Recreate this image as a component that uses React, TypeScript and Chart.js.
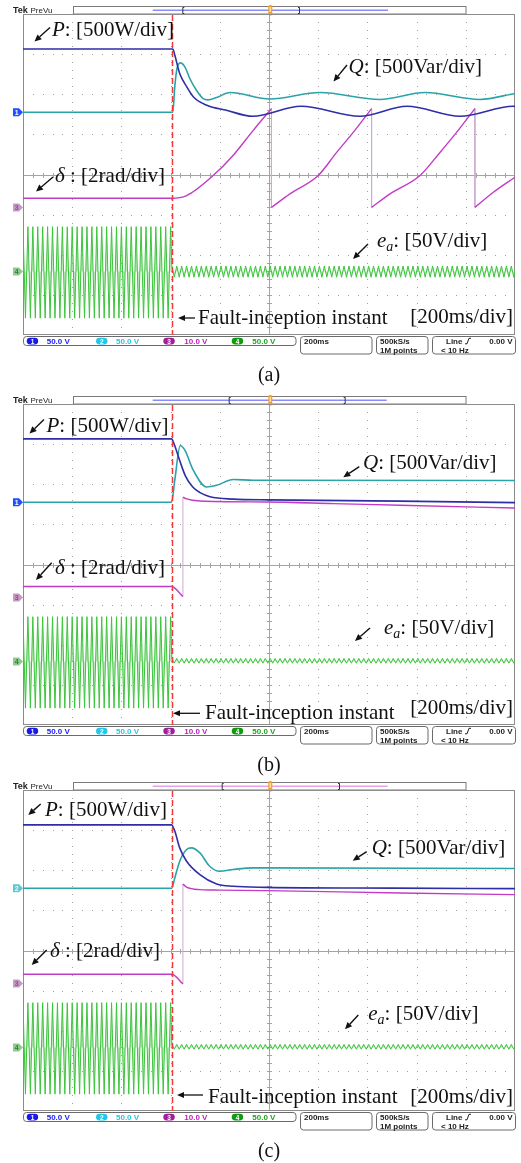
import { useEffect, useRef } from "react";
import { Chart, registerables } from "chart.js";
Chart.register(...registerables);

// ---------------- oscilloscope settings ----------------
const divMs = 200; // 200 ms/div, 10 divisions
const timeMaxMs = 2000;
const faultMs = 604;
const pScale = 500; // W/div
const qScale = 500; // Var/div
const dScale = 2; // rad/div
const eScale = 50; // V/div
const ch12Off = 1.55; // ground marker of ch1/ch2 (div)
const ch3Off = -0.82;
const ch4Off = -2.42;

// ---------------- panel (a) ----------------
const pTimesA = [0, 609, 617, 637, 666, 693, 747, 827, 934, 1130, 1370, 1561, 1777, 1993, 2000];
const pA = [788, 788, 713, 484, 316, 191, 88, 25, -50, 75, -50, 75, -50, 75, 74];
const qTimesA = [0, 609, 617, 626, 640, 658, 678, 705, 732, 752, 787, 841, 1003, 1207, 1450, 1634, 1857, 2000];
const qA = [0, 0, 320, 546, 616, 566, 421, 275, 171, 155, 184, 246, 165, 246, 160, 246, 160, 235];
const deltaTimesA = [
  [0, 605, 665, 773, 854, 936, 1010],
  [1010, 1085, 1200, 1275, 1349, 1417],
  [1417, 1492, 1614, 1695, 1769, 1837],
  [1837, 1912, 2000],
];
const deltaA = [
  [0.455, 0.455, 0.59, 1.59, 2.59, 3.84, 4.925],
  [0, 0.675, 1.59, 2.74, 3.84, 4.925],
  [0, 0.675, 1.59, 2.74, 3.84, 4.925],
  [0, 0.755, 1.505],
];

// ---------------- panel (b) ----------------
const pTimesB = [0, 604, 615, 637, 660, 690, 720, 760, 855, 1003, 1532, 2000];
const pB = [791, 791, 720, 520, 330, 190, 120, 70, 40, 30, 15, -4];
const qTimesB = [0, 604, 617, 639, 658, 692, 746, 787, 855, 936, 2000];
const qB = [0, 0, 275, 704, 650, 400, 191, 212, 284, 275, 272];
const deltaTimesB = [
  [0, 604, 650],
  [650, 662, 719, 991, 1261, 1533, 2000],
];
const deltaB = [
  [0.54, 0.54, 0.04],
  [5.0, 4.925, 4.805, 4.755, 4.675, 4.59, 4.455],
];

// ---------------- panel (c) ----------------
const pTimesC = [0, 604, 617, 637, 665, 719, 787, 854, 990, 1500, 2000];
const pC = [791, 791, 713, 504, 338, 171, 54, 25, 12, 2, -4];
const qTimesC = [0, 604, 617, 637, 665, 685, 719, 759, 800, 854, 936, 2000];
const qC = [0, 0, 129, 338, 484, 504, 441, 275, 212, 234, 254, 246];
const deltaTimesC = [
  [0, 604, 650],
  [650, 665, 719, 800, 991, 1533, 2000],
];
const deltaC = [
  [0.455, 0.455, -0.025],
  [4.955, 4.8, 4.675, 4.65, 4.625, 4.505, 4.425],
];

// ---------------- e_a samples (half-cycle extremes, V) ----------------
const eaHalfMs = 10;
const eaPreStartMs = 0;
const eaPostStartMs = 605;
const eaPre = [
  56, -58, 56, -58, 56, -58, 56, -58, 56, -58, 56, -58, 56, -58, 56, -58, 56, -58, 56, -58,
  56, -58, 56, -58, 56, -58, 56, -58, 56, -58, 56, -58, 56, -58, 56, -58, 56, -58, 56, -58,
  56, -58, 56, -58, 56, -58, 56, -58, 56, -58, 56, -58, 56, -58, 56, -58, 56, -58, 56, -58,
  56,
];
const eaPostA = [
  7, -7, 7, -7, 7, -7, 7, -7, 7, -7, 7, -7, 7, -7, 7, -7, 7, -7, 7, -7,
  7, -7, 7, -7, 7, -7, 7, -7, 7, -7, 7, -7, 7, -7, 7, -7, 7, -7, 7, -7,
  7, -7, 7, -7, 7, -7, 7, -7, 7, -7, 7, -7, 7, -7, 7, -7, 7, -7, 7, -7,
  7, -7, 7, -7, 7, -7, 7, -7, 7, -7, 7, -7, 7, -7, 7, -7, 7, -7, 7, -7,
  7, -7, 7, -7, 7, -7, 7, -7, 7, -7, 7, -7, 7, -7, 7, -7, 7, -7, 7, -7,
  7, -7, 7, -7, 7, -7, 7, -7, 7, -7, 7, -7, 7, -7, 7, -7, 7, -7, 7, -7,
  7, -7, 7, -7, 7, -7, 7, -7, 7, -7, 7, -7, 7, -7, 7, -7, 7, -7, 7, -7,
  7,
];
const eaPostBC = [
  4, -2, 4, -2, 4, -2, 4, -2, 4, -2, 4, -2, 4, -2, 4, -2, 4, -2, 4, -2,
  4, -2, 4, -2, 4, -2, 4, -2, 4, -2, 4, -2, 4, -2, 4, -2, 4, -2, 4, -2,
  4, -2, 4, -2, 4, -2, 4, -2, 4, -2, 4, -2, 4, -2, 4, -2, 4, -2, 4, -2,
  4, -2, 4, -2, 4, -2, 4, -2, 4, -2, 4, -2, 4, -2, 4, -2, 4, -2, 4, -2,
  4, -2, 4, -2, 4, -2, 4, -2, 4, -2, 4, -2, 4, -2, 4, -2, 4, -2, 4, -2,
  4, -2, 4, -2, 4, -2, 4, -2, 4, -2, 4, -2, 4, -2, 4, -2, 4, -2, 4, -2,
  4, -2, 4, -2, 4, -2, 4, -2, 4, -2, 4, -2, 4, -2, 4, -2, 4, -2, 4, -2,
  4,
];

// ---------------- texts ----------------
const captions = ["(a)", "(b)", "(c)"];
const statusChannels = [
  { n: "1", txt: "50.0 V" },
  { n: "2", txt: "50.0 V" },
  { n: "3", txt: "10.0 V" },
  { n: "4", txt: "50.0 V" },
];

// ---------------- styles / layout ----------------
const W = 521;
const H = 387;
const SERIF = '"Liberation Serif", "Times New Roman", serif';
const SANS = '"Liberation Sans", Arial, sans-serif';
const LBL = 21;
const C_P = "#2e2ea6";
const C_Q = "#2aa3a8";
const C_D = "#c23bc6";
const C_DW = "#cfa8d2";
const C_E = "#3cc43c";

const panels: any[] = [
  {
    id: "a", caption: captions[0], top: 0,
    pT: pTimesA, pV: pA, qT: qTimesA, qV: qA, dT: deltaTimesA, dV: deltaA, ePost: eaPostA,
    lp: { x: 52, y: 35.5, ax: [50, 27.5, 34.5, 41.5] },
    lq: { x: 348.5, y: 72.5, ax: [347, 65, 333.5, 81.5] },
    ld: { x: 55, y: 181.5, ax: [53, 177, 36, 191.5] },
    le: { x: 377, y: 247, ax: [368, 244, 353, 259] },
    fault: { a1: 178, a2: 195, ay: 318, tx: 198, ty: 324 },
    td: { x: 513, y: 323 },
    bar: { br: [182.3, 300], color: "#8a8aff", x1: 152.7, x2: 388 },
    m12: { n: "1", fill: "#1f4fff", tc: "#ffffff" },
  },
  {
    id: "b", caption: captions[1], top: 390,
    pT: pTimesB, pV: pB, qT: qTimesB, qV: qB, dT: deltaTimesB, dV: deltaB, ePost: eaPostBC,
    lp: { x: 46.5, y: 42, ax: [44, 29.5, 29.5, 43.5] },
    lq: { x: 363, y: 78.5, ax: [359.3, 76.7, 343.3, 87.3] },
    ld: { x: 55, y: 183.5, ax: [51.7, 172.7, 36, 190] },
    le: { x: 384, y: 244, ax: [370, 238, 355, 251] },
    fault: { a1: 173, a2: 200, ay: 323.3, tx: 205, ty: 329 },
    td: { x: 513, y: 324 },
    bar: { br: [228.7, 345.7], color: "#8a8aff", x1: 152.7, x2: 386.7 },
    m12: { n: "1", fill: "#1f4fff", tc: "#ffffff" },
  },
  {
    id: "c", caption: captions[2], top: 776,
    pT: pTimesC, pV: pC, qT: qTimesC, qV: qC, dT: deltaTimesC, dV: deltaC, ePost: eaPostBC,
    lp: { x: 45, y: 40, ax: [40.7, 28, 28.3, 39] },
    lq: { x: 371.7, y: 77.5, ax: [366.7, 75.7, 352.7, 84.7] },
    ld: { x: 50, y: 181, ax: [46.7, 174, 31.7, 189] },
    le: { x: 368.3, y: 244, ax: [358.3, 239, 345, 253.3] },
    fault: { a1: 177, a2: 203, ay: 319, tx: 208, ty: 326.7 },
    td: { x: 513, y: 326.5 },
    bar: { br: [221.7, 340], color: "#e8a0e8", x1: 152.7, x2: 387.7 },
    m12: { n: "2", fill: "#63c6cc", tc: "#e8ffff" },
  },
];

// ---------------- data builders ----------------
function line(times: number[], vals: number[], scale: number, off: number) {
  return times.map((t, i) => ({ x: t, y: vals[i] / scale + off }));
}
function segs(tS: number[][], vS: number[][], scale: number, off: number) {
  const out: any[] = [];
  tS.forEach((ts, s) => {
    if (s > 0) out.push({ x: ts[0], y: null });
    ts.forEach((t, i) => out.push({ x: t, y: vS[s][i] / scale + off }));
  });
  return out;
}
function wraps(tS: number[][], vS: number[][], scale: number, off: number) {
  const out: any[] = [];
  for (let s = 1; s < tS.length; s++) {
    const pt = tS[s - 1], pv = vS[s - 1];
    out.push({ x: pt[pt.length - 1], y: pv[pv.length - 1] / scale + off });
    out.push({ x: tS[s][0], y: vS[s][0] / scale + off });
    out.push({ x: tS[s][0], y: null });
  }
  return out;
}
function eaSeries(pre: number[], post: number[], off: number) {
  const pts = pre.map((v, i) => ({ x: eaPreStartMs + i * eaHalfMs, y: v / eScale + off }));
  post.forEach((v, i) => pts.push({ x: eaPostStartMs + i * eaHalfMs, y: v / eScale + off }));
  return pts;
}

// ---------------- drawing helpers ----------------
function arrow(ctx: any, x1: number, y1: number, x2: number, y2: number, head = 7, half = 3.2, lw = 1.4) {
  const ang = Math.atan2(y2 - y1, x2 - x1);
  const bx = x2 - head * Math.cos(ang);
  const by = y2 - head * Math.sin(ang);
  ctx.lineWidth = lw;
  ctx.beginPath();
  ctx.moveTo(x1, y1);
  ctx.lineTo(bx, by);
  ctx.stroke();
  ctx.beginPath();
  ctx.moveTo(x2, y2);
  ctx.lineTo(bx + half * Math.sin(ang), by - half * Math.cos(ang));
  ctx.lineTo(bx - half * Math.sin(ang), by + half * Math.cos(ang));
  ctx.closePath();
  ctx.fill();
}
function rich(ctx: any, x: number, y: number, parts: [string, string][]) {
  let cx = x;
  for (const [t, st] of parts) {
    if (st === "sub") {
      ctx.font = `italic ${Math.round(LBL * 0.68)}px ${SERIF}`;
      ctx.fillText(t, cx, y + 4);
    } else {
      ctx.font = `${st === "i" ? "italic " : ""}${LBL}px ${SERIF}`;
      ctx.fillText(t, cx, y);
    }
    cx += ctx.measureText(t).width;
  }
}

function drawHeader(ctx: any, spec: any) {
  ctx.save();
  ctx.textAlign = "left";
  ctx.textBaseline = "alphabetic";
  ctx.fillStyle = "#222";
  ctx.font = `bold 9px ${SANS}`;
  ctx.fillText("Tek", 13, 13.3);
  ctx.font = `8px ${SANS}`;
  ctx.fillText("PreVu", 30.5, 13.3);
  ctx.strokeStyle = "#7a7a7a";
  ctx.lineWidth = 1;
  ctx.strokeRect(73.5, 6.5, 392.5, 7.5);
  ctx.strokeStyle = spec.bar.color;
  ctx.lineWidth = 1.5;
  ctx.beginPath();
  ctx.moveTo(spec.bar.x1, 10.2);
  ctx.lineTo(spec.bar.x2, 10.2);
  ctx.stroke();
  ctx.strokeStyle = "#333";
  ctx.lineWidth = 1;
  const [b1, b2] = spec.bar.br;
  ctx.beginPath();
  ctx.moveTo(b1 + 2, 7.5); ctx.lineTo(b1 + 0.5, 7.5); ctx.lineTo(b1 + 0.5, 13.5); ctx.lineTo(b1 + 2, 13.5);
  ctx.moveTo(b2 - 2, 7.5); ctx.lineTo(b2 - 0.5, 7.5); ctx.lineTo(b2 - 0.5, 13.5); ctx.lineTo(b2 - 2, 13.5);
  ctx.stroke();
  ctx.fillStyle = "#f5a020";
  ctx.beginPath();
  ctx.roundRect(268.3, 5, 4, 10.5, 1.5);
  ctx.fill();
  ctx.fillStyle = "#ffe0a0";
  ctx.fillRect(269.5, 7, 1.6, 5);
  ctx.restore();
}

function drawGraticule(chart: any) {
  const { ctx, chartArea: a } = chart;
  const xs = chart.scales.x;
  const ys = chart.scales.y;
  ctx.save();
  ctx.fillStyle = "#a0a0a0";
  for (let i = 1; i < 10; i++) {
    if (i === 5) continue;
    const px = Math.round(xs.getPixelForValue(i * divMs));
    for (let k = 1; k < 40; k++) {
      const py = Math.round(ys.getPixelForValue(-4 + k * 0.2));
      ctx.fillRect(px, py, 1, 1);
    }
  }
  for (let j = -3; j <= 3; j++) {
    if (j === 0) continue;
    const py = Math.round(ys.getPixelForValue(j));
    for (let k = 1; k < 50; k++) {
      const px = Math.round(xs.getPixelForValue((k * divMs) / 5));
      ctx.fillRect(px, py, 1, 1);
    }
  }
  // centre cross with minor ticks
  const cx = Math.round(xs.getPixelForValue(timeMaxMs / 2)) + 0.5;
  const cy = Math.round(ys.getPixelForValue(0)) + 0.5;
  ctx.strokeStyle = "#a4a4a4";
  ctx.lineWidth = 1;
  ctx.beginPath();
  ctx.moveTo(a.left, cy); ctx.lineTo(a.right, cy);
  ctx.moveTo(cx, a.top); ctx.lineTo(cx, a.bottom);
  for (let k = 1; k < 50; k++) {
    const px = Math.round(xs.getPixelForValue((k * divMs) / 5)) + 0.5;
    ctx.moveTo(px, cy - 2.5); ctx.lineTo(px, cy + 2.5);
  }
  for (let k = 1; k < 40; k++) {
    const py = Math.round(ys.getPixelForValue(-4 + k * 0.2)) + 0.5;
    ctx.moveTo(cx - 2.5, py); ctx.lineTo(cx + 2.5, py);
  }
  ctx.stroke();
  ctx.strokeStyle = "#8c8c8c";
  ctx.strokeRect(a.left + 0.5, a.top + 0.5, a.right - a.left - 1, a.bottom - a.top - 1);
  ctx.restore();
}

function marker(ctx: any, yc: number, label: string, fill: string, tc: string) {
  ctx.beginPath();
  ctx.moveTo(13, yc - 4);
  ctx.lineTo(19, yc - 4);
  ctx.lineTo(23, yc);
  ctx.lineTo(19, yc + 4);
  ctx.lineTo(13, yc + 4);
  ctx.closePath();
  ctx.fillStyle = fill;
  ctx.fill();
  ctx.fillStyle = tc;
  ctx.font = `bold 7px ${SANS}`;
  ctx.textAlign = "center";
  ctx.textBaseline = "middle";
  ctx.fillText(label, 16.8, yc + 0.5);
}

function drawStatus(ctx: any, bottom: number) {
  const y0 = bottom + 1.5;
  ctx.save();
  ctx.strokeStyle = "#6a6a6a";
  ctx.lineWidth = 1;
  const boxes = [
    [23.5, 272.5, 9],
    [300.5, 71.5, 17.5],
    [376.5, 51.5, 17.5],
    [432.5, 83, 17.5],
  ];
  for (const [x, w, h] of boxes) {
    ctx.beginPath();
    ctx.roundRect(x, y0, w, h, 3);
    ctx.stroke();
  }
  const pillX = [26.7, 96, 163.3, 231.7];
  const textX = [46.7, 116, 184.3, 252.3];
  const pillC = ["#1a1ae6", "#22c8e6", "#a0209a", "#109a10"];
  const textC = ["#2020ff", "#22c8e6", "#c020c0", "#18a818"];
  statusChannels.forEach((c, i) => {
    ctx.fillStyle = pillC[i];
    ctx.beginPath();
    ctx.roundRect(pillX[i], y0 + 1.2, 11.5, 6.8, 3.4);
    ctx.fill();
    ctx.fillStyle = "#fff";
    ctx.font = `bold 6.5px ${SANS}`;
    ctx.textAlign = "center";
    ctx.textBaseline = "alphabetic";
    ctx.fillText(c.n, pillX[i] + 5.8, y0 + 7);
    ctx.fillStyle = textC[i];
    ctx.font = `bold 8px ${SANS}`;
    ctx.textAlign = "left";
    ctx.fillText(c.txt, textX[i], y0 + 7.5);
  });
  ctx.fillStyle = "#222";
  ctx.font = `bold 8px ${SANS}`;
  ctx.textAlign = "left";
  ctx.fillText("200ms", 304, y0 + 7.5);
  ctx.fillText("500kS/s", 380, y0 + 7.5);
  ctx.fillText("1M points", 380, y0 + 16);
  ctx.fillText("Line", 446, y0 + 7.5);
  ctx.fillText("< 10 Hz", 441, y0 + 16);
  ctx.textAlign = "right";
  ctx.fillText("0.00 V", 512.5, y0 + 7.5);
  ctx.strokeStyle = "#222";
  ctx.lineWidth = 1;
  ctx.beginPath();
  ctx.moveTo(465, y0 + 7.3);
  ctx.lineTo(467, y0 + 7.3);
  ctx.lineTo(469, y0 + 1.8);
  ctx.lineTo(471, y0 + 1.8);
  ctx.stroke();
  ctx.restore();
}

function scopePlugin(spec: any) {
  return {
    id: "scope_" + spec.id,
    beforeDatasetsDraw(chart: any) {
      drawHeader(chart.ctx, spec);
      drawGraticule(chart);
    },
    afterDatasetsDraw(chart: any) {
      const { ctx, chartArea: a } = chart;
      const xs = chart.scales.x;
      const ys = chart.scales.y;
      ctx.save();
      // fault instant
      const fx = Math.round(xs.getPixelForValue(faultMs)) + 0.5;
      ctx.strokeStyle = "#f23a3a";
      ctx.lineWidth = 1.5;
      ctx.setLineDash([6, 3]);
      ctx.beginPath();
      ctx.moveTo(fx, a.top + 1);
      ctx.lineTo(fx, a.bottom);
      ctx.stroke();
      ctx.setLineDash([]);
      // channel ground markers
      marker(ctx, ys.getPixelForValue(ch3Off), "3", "#c69ac6", "#8a4f8a");
      marker(ctx, ys.getPixelForValue(ch4Off), "4", "#8fca8f", "#3c7a3c");
      marker(ctx, ys.getPixelForValue(ch12Off), spec.m12.n, spec.m12.fill, spec.m12.tc);
      // labels
      ctx.fillStyle = "#111";
      ctx.strokeStyle = "#111";
      ctx.textAlign = "left";
      ctx.textBaseline = "alphabetic";
      rich(ctx, spec.lp.x, spec.lp.y, [["P", "i"], [": [500W/div]", "r"]]);
      rich(ctx, spec.lq.x, spec.lq.y, [["Q", "i"], [": [500Var/div]", "r"]]);
      rich(ctx, spec.ld.x, spec.ld.y, [["\u03b4", "i"], [" : [2rad/div]", "r"]]);
      rich(ctx, spec.le.x, spec.le.y, [["e", "i"], ["a", "sub"], [": [50V/div]", "r"]]);
      for (const l of [spec.lp, spec.lq, spec.ld, spec.le]) {
        arrow(ctx, l.ax[0], l.ax[1], l.ax[2], l.ax[3]);
      }
      const f = spec.fault;
      arrow(ctx, f.a2, f.ay, f.a1, f.ay, 7, 3, 1.3);
      ctx.font = `${LBL}px ${SERIF}`;
      ctx.fillText("Fault-inception instant", f.tx, f.ty);
      ctx.textAlign = "right";
      ctx.fillText("[200ms/div]", spec.td.x, spec.td.y);
      // caption
      ctx.textAlign = "center";
      ctx.font = `20px ${SERIF}`;
      ctx.fillText(spec.caption, 269, 381);
      ctx.restore();
      drawStatus(ctx, a.bottom);
    },
  };
}

function ScopePanel({ spec }: { spec: any }) {
  const ref = useRef<HTMLCanvasElement | null>(null);
  useEffect(() => {
    const canvas = ref.current;
    if (!canvas) return;
    const chart = new Chart(canvas, {
      type: "line",
      data: {
        datasets: [
          {
            label: "P",
            data: line(spec.pT, spec.pV, pScale, ch12Off),
            borderColor: C_P,
            borderWidth: 1.6,
            cubicInterpolationMode: "monotone",
          },
          {
            label: "Q",
            data: line(spec.qT, spec.qV, qScale, ch12Off),
            borderColor: C_Q,
            borderWidth: 1.6,
            cubicInterpolationMode: "monotone",
          },
          {
            label: "delta",
            data: segs(spec.dT, spec.dV, dScale, ch3Off),
            borderColor: C_D,
            borderWidth: 1.4,
            cubicInterpolationMode: "monotone",
            spanGaps: false,
          },
          {
            label: "delta wrap",
            data: wraps(spec.dT, spec.dV, dScale, ch3Off),
            borderColor: C_DW,
            borderWidth: 1,
            tension: 0,
            spanGaps: false,
          },
          {
            label: "e_a",
            data: eaSeries(eaPre, spec.ePost, ch4Off),
            borderColor: C_E,
            borderWidth: 1,
            tension: 0,
            fill: { value: ch4Off },
            backgroundColor: "rgba(90,205,90,0.4)",
          },
        ],
      } as any,
      options: {
        animation: false,
        responsive: false,
        devicePixelRatio: 1,
        layout: { padding: { left: 23, right: 6, top: 14, bottom: 52 } },
        elements: { point: { radius: 0 } },
        plugins: { legend: { display: false }, tooltip: { enabled: false } },
        scales: {
          x: { type: "linear", min: 0, max: timeMaxMs, display: false },
          y: { type: "linear", min: -4, max: 4, display: false },
        },
      } as any,
      plugins: [scopePlugin(spec)],
    });
    return () => chart.destroy();
  }, [spec]);
  return (
    <canvas
      ref={ref}
      width={W}
      height={H}
      style={{ position: "absolute", left: 0, top: spec.top, width: W, height: H, display: "block" }}
    />
  );
}

export default function App() {
  return (
    <div style={{ position: "absolute", left: 0, top: 0, width: W, height: 1163, background: "#fff" }}>
      {panels.map((p) => (
        <ScopePanel key={p.id} spec={p} />
      ))}
    </div>
  );
}
